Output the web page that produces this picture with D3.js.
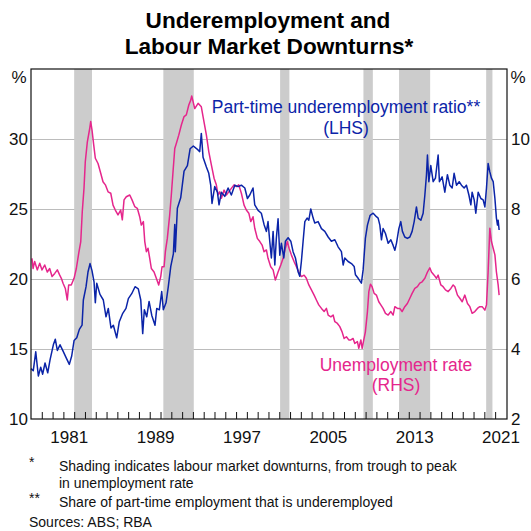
<!DOCTYPE html>
<html><head><meta charset="utf-8">
<script src="https://cdn.jsdelivr.net/npm/d3@7"></script>
<style>body{margin:0;background:#fff} svg{display:block} text{font-family:"Liberation Sans",Arial,sans-serif}</style>
</head><body><svg id="c" width="531" height="531"></svg>
<script>
// ---- data (decimal year, value) ----
const leftTicks = [10, 15, 20, 25, 30];
const rightTicks = [2, 4, 6, 8, 10];
const yearLabels = [1981, 1989, 1997, 2005, 2013, 2021];
const downturns = [[1982.0,1983.65],[1990.26,1993.08],[2001.08,2001.94],[2008.8,2009.67],[2012.1,2014.98],[2020.17,2020.75]];
// Part-time underemployment ratio (LHS, %)
const underemployment = [
[1978.00,13.6],[1978.21,13.45],[1978.44,14.8],[1978.68,13.07],[1978.90,13.7],[1979.08,13.2],[1979.30,14.0],[1979.55,13.3],[1979.76,14.2],
[1980.07,15.3],[1980.25,15.7],[1980.44,14.9],[1980.69,15.3],[1980.94,14.9],[1981.24,14.4],[1981.55,13.9],[1981.77,14.5],[1981.99,15.6],
[1982.24,15.8],[1982.48,16.4],[1982.73,16.7],[1982.85,18.5],[1983.10,19.45],[1983.28,20.5],[1983.47,21.1],[1983.65,20.6],[1983.84,19.8],
[1983.96,18.3],[1984.09,19.7],[1984.39,18.9],[1984.70,18.5],[1984.95,17.3],[1985.16,17.9],[1985.41,16.5],[1985.63,16.7],[1985.94,15.8],
[1986.18,16.95],[1986.50,17.55],[1986.80,17.9],[1987.02,18.6],[1987.33,18.95],[1987.64,19.45],[1987.94,19.3],[1988.17,18.5],[1988.35,16.1],
[1988.50,17.8],[1988.72,17.3],[1988.94,18.4],[1989.19,17.4],[1989.49,16.7],[1989.65,17.9],[1989.89,17.8],[1990.11,19.1],[1990.26,17.8],
[1990.51,18.3],[1990.72,19.45],[1990.95,20.9],[1991.19,21.8],[1991.32,23.9],[1991.37,21.95],[1991.56,25.05],[1991.87,25.8],[1992.18,27.7],
[1992.49,28.1],[1992.74,29.3],[1993.04,29.5],[1993.36,29.3],[1993.63,29.1],[1993.78,30.4],[1993.94,28.7],[1994.25,28.0],[1994.47,27.55],
[1994.65,26.7],[1994.77,25.4],[1995.02,26.6],[1995.27,26.2],[1995.42,25.3],[1995.64,26.2],[1995.95,25.9],[1996.26,26.5],[1996.56,26.0],
[1996.88,26.7],[1997.18,26.6],[1997.49,26.7],[1997.81,26.5],[1998.05,25.75],[1998.27,26.0],[1998.57,26.5],[1998.73,25.3],[1999.04,24.9],
[1999.34,24.7],[1999.59,23.9],[1999.81,23.4],[1999.96,24.1],[2000.12,22.7],[2000.27,21.5],[2000.43,23.4],[2000.59,21.0],[2000.73,22.9],
[2000.89,24.3],[2001.05,21.7],[2001.20,22.55],[2001.42,21.5],[2001.57,22.7],[2001.82,22.95],[2002.07,22.7],[2002.28,21.95],[2002.50,21.5],
[2002.75,20.5],[2002.90,20.2],[2003.05,21.25],[2003.21,22.7],[2003.37,24.1],[2003.58,24.35],[2003.74,24.2],[2003.92,25.0],[2004.14,24.35],
[2004.29,24.0],[2004.60,24.1],[2004.91,23.6],[2005.22,23.4],[2005.53,23.0],[2005.83,22.7],[2006.15,22.8],[2006.45,22.3],[2006.76,21.95],
[2006.92,21.0],[2007.07,21.5],[2007.38,21.25],[2007.69,21.1],[2007.94,20.9],[2008.06,20.3],[2008.31,20.05],[2008.61,19.7],[2008.77,20.65],
[2008.98,22.9],[2009.17,23.85],[2009.42,24.55],[2009.70,24.7],[2010.00,24.45],[2010.16,24.35],[2010.32,23.85],[2010.47,22.8],[2010.62,23.6],
[2010.84,23.25],[2011.09,22.55],[2011.34,22.8],[2011.55,22.4],[2011.71,22.05],[2011.86,22.55],[2012.08,23.6],[2012.26,24.1],[2012.41,23.4],
[2012.63,23.0],[2012.87,22.9],[2013.10,23.0],[2013.31,23.4],[2013.50,24.1],[2013.71,25.15],[2013.87,24.35],[2014.12,24.2],[2014.33,24.7],
[2014.49,26.0],[2014.64,27.45],[2014.73,28.85],[2014.86,26.95],[2015.04,28.1],[2015.26,26.95],[2015.47,27.2],[2015.72,28.85],[2015.84,26.95],
[2016.09,27.3],[2016.34,26.2],[2016.58,27.45],[2016.80,26.7],[2017.02,26.5],[2017.20,27.55],[2017.42,26.7],[2017.67,26.95],[2017.88,26.7],
[2018.13,26.5],[2018.34,26.7],[2018.57,26.0],[2018.75,25.3],[2018.87,26.2],[2019.06,25.65],[2019.21,24.7],[2019.43,26.2],[2019.68,25.75],
[2019.89,25.65],[2020.05,25.15],[2020.20,26.5],[2020.35,28.25],[2020.51,27.65],[2020.66,27.2],[2020.82,26.95],[2020.98,25.75],[2021.12,24.35],
[2021.22,23.85],[2021.28,24.2],[2021.37,23.5]
];
// Unemployment rate (RHS, %)
const unemployment = [
[1978.09,6.59],[1978.19,6.3],[1978.34,6.5],[1978.58,6.26],[1978.81,6.45],[1979.02,6.26],[1979.27,6.4],[1979.51,6.2],[1979.73,6.3],
[1979.95,6.07],[1980.20,6.16],[1980.44,6.26],[1980.66,6.11],[1980.81,6.02],[1980.97,5.88],[1981.18,5.73],[1981.36,5.4],[1981.49,5.83],
[1981.73,5.83],[1981.99,6.02],[1982.20,6.3],[1982.42,6.73],[1982.61,7.07],[1982.75,7.92],[1982.91,8.59],[1983.03,9.35],[1983.22,9.92],
[1983.44,10.3],[1983.53,10.5],[1983.65,10.26],[1983.81,9.83],[1983.96,9.45],[1984.21,9.3],[1984.46,9.02],[1984.67,8.78],[1984.89,8.69],
[1985.14,8.49],[1985.39,8.45],[1985.60,8.11],[1985.81,7.97],[1986.06,7.83],[1986.31,7.97],[1986.46,7.69],[1986.62,8.26],[1986.83,8.35],
[1987.15,8.4],[1987.36,8.26],[1987.61,8.07],[1987.85,8.02],[1988.07,7.78],[1988.22,7.54],[1988.41,7.64],[1988.54,7.07],[1988.69,6.78],
[1988.84,6.88],[1989.00,6.59],[1989.15,6.3],[1989.40,6.2],[1989.61,6.02],[1989.83,5.83],[1990.02,6.07],[1990.14,6.35],[1990.33,6.35],
[1990.45,6.78],[1990.63,7.16],[1990.85,7.83],[1991.00,8.4],[1991.16,9.07],[1991.32,9.73],[1991.47,9.88],[1991.69,10.11],[1991.93,10.4],
[1992.18,10.64],[1992.39,10.69],[1992.62,10.97],[1992.80,11.11],[1992.89,11.23],[1993.17,10.87],[1993.48,11.02],[1993.78,10.92],[1993.94,10.64],
[1994.25,10.11],[1994.47,9.64],[1994.71,9.26],[1994.96,8.88],[1995.17,8.69],[1995.33,8.4],[1995.49,8.49],[1995.64,8.31],[1995.89,8.54],
[1996.10,8.4],[1996.32,8.49],[1996.56,8.59],[1996.81,8.69],[1997.03,8.64],[1997.25,8.69],[1997.49,8.45],[1997.74,8.11],[1997.95,7.97],
[1998.18,7.88],[1998.36,7.64],[1998.57,7.78],[1998.73,7.45],[1998.97,7.16],[1999.20,7.07],[1999.41,6.97],[1999.59,6.78],[1999.81,6.83],
[1999.96,6.59],[2000.21,6.35],[2000.43,6.26],[2000.64,5.97],[2000.89,6.2],[2001.14,6.4],[2001.36,6.59],[2001.57,6.88],[2001.75,7.07],
[2001.91,6.88],[2002.12,6.69],[2002.37,6.5],[2002.59,6.35],[2002.81,6.2],[2003.05,6.07],[2003.30,6.11],[2003.51,6.02],[2003.74,5.83],
[2003.98,5.69],[2004.23,5.54],[2004.44,5.4],[2004.66,5.26],[2004.91,5.16],[2005.16,5.07],[2005.37,5.16],[2005.53,4.97],[2005.78,4.92],
[2005.99,4.97],[2006.15,4.78],[2006.39,4.73],[2006.61,4.64],[2006.82,4.49],[2007.01,4.3],[2007.22,4.35],[2007.44,4.26],[2007.63,4.26],
[2007.84,4.3],[2008.00,4.16],[2008.24,4.21],[2008.37,4.02],[2008.56,4.26],[2008.68,4.02],[2008.80,4.21],[2008.98,4.49],[2009.17,5.07],
[2009.30,5.64],[2009.45,5.85],[2009.60,5.78],[2009.79,5.59],[2010.00,5.54],[2010.22,5.35],[2010.41,5.26],[2010.62,5.16],[2010.84,5.02],
[2011.09,4.97],[2011.34,5.07],[2011.55,4.97],[2011.71,5.21],[2011.95,5.16],[2012.17,5.16],[2012.38,5.07],[2012.63,5.21],[2012.87,5.3],
[2013.10,5.45],[2013.31,5.59],[2013.56,5.73],[2013.80,5.78],[2014.02,5.88],[2014.24,5.92],[2014.49,6.02],[2014.73,6.2],[2014.95,6.32],
[2015.10,6.2],[2015.35,6.11],[2015.56,6.02],[2015.72,6.11],[2015.97,5.83],[2016.18,5.78],[2016.40,5.69],[2016.65,5.64],[2016.90,5.73],
[2017.11,5.83],[2017.27,5.78],[2017.51,5.54],[2017.73,5.45],[2017.95,5.35],[2018.19,5.54],[2018.44,5.3],[2018.66,5.21],[2018.87,5.02],
[2019.12,5.07],[2019.36,5.16],[2019.58,5.21],[2019.80,5.21],[2020.05,5.11],[2020.20,5.26],[2020.35,6.2],[2020.51,7.45],[2020.66,7.07],
[2020.82,6.88],[2020.98,6.69],[2021.12,6.2],[2021.28,5.83],[2021.37,5.54]
];

// ---- chart ----
const W = 531, H = 531;
const m = {l: 31, r: 507, t: 69, b: 419};
const BLUE = "#0b24a8", PINK = "#e5268c";
const FONT = "Liberation Sans, Arial, sans-serif";
const x = d3.scaleLinear().domain([1978, 2022.1]).range([m.l, m.r]);
const yL = d3.scaleLinear().domain([10, 35]).range([m.b, m.t]);
const yR = d3.scaleLinear().domain([2, 12]).range([m.b, m.t]);
const svg = d3.select("#c");
svg.append("rect").attr("width", W).attr("height", H).attr("fill", "#fff");

// gridlines
svg.append("g").attr("transform", `translate(${m.l},0)`)
  .call(d3.axisLeft(yL).tickValues(leftTicks.slice(1)).tickSize(-(m.r - m.l)).tickFormat(""))
  .call(g => g.select(".domain").remove())
  .call(g => g.selectAll("line").attr("stroke", "#bcbcbc").attr("stroke-width", 1));

// shading
svg.append("g").selectAll("rect").data(downturns).join("rect")
  .attr("x", d => x(d[0])).attr("width", d => x(d[1]) - x(d[0]))
  .attr("y", m.t).attr("height", m.b - m.t).attr("fill", "#cccccc");

// lines
const lineL = d3.line().x(d => x(d[0])).y(d => yL(d[1]));
const lineR = d3.line().x(d => x(d[0])).y(d => yR(d[1]));
svg.append("path").datum(unemployment).attr("d", lineR).attr("fill", "none")
  .attr("stroke", PINK).attr("stroke-width", 1.5).attr("stroke-linejoin", "round");
svg.append("path").datum(underemployment).attr("d", lineL).attr("fill", "none")
  .attr("stroke", BLUE).attr("stroke-width", 1.5).attr("stroke-linejoin", "round");

// frame
svg.append("rect").attr("x", m.l).attr("y", m.t).attr("width", m.r - m.l).attr("height", m.b - m.t)
  .attr("fill", "none").attr("stroke", "#111").attr("stroke-width", 1.2);

// x ticks (each year, inward)
svg.append("g").attr("transform", `translate(0,${m.b})`)
  .call(d3.axisBottom(x).tickValues(d3.range(1979, 2022)).tickSize(-7).tickFormat(""))
  .call(g => g.select(".domain").remove())
  .call(g => g.selectAll("line").attr("stroke", "#111").attr("stroke-width", 1));
// x labels (mid-year)
svg.append("g").attr("transform", `translate(0,${m.b})`)
  .call(d3.axisBottom(x).tickValues(yearLabels.map(d => d + 0.5)).tickSize(0).tickPadding(12).tickFormat(d => Math.floor(d)))
  .call(g => g.select(".domain").remove())
  .call(g => g.selectAll("text").attr("font-size", 17).attr("fill", "#111").attr("font-family", FONT));

// y labels
svg.append("g").attr("transform", `translate(${m.l},0)`)
  .call(d3.axisLeft(yL).tickValues(leftTicks).tickSize(0).tickPadding(3))
  .call(g => g.select(".domain").remove())
  .call(g => g.selectAll("text").attr("font-size", 17).attr("fill", "#111").attr("font-family", FONT));
svg.append("g").attr("transform", `translate(${m.r},0)`)
  .call(d3.axisRight(yR).tickValues(rightTicks).tickSize(0).tickPadding(4))
  .call(g => g.select(".domain").remove())
  .call(g => g.selectAll("text").attr("font-size", 17).attr("fill", "#111").attr("font-family", FONT));
svg.append("text").attr("x", 19).attr("y", 83).attr("text-anchor", "middle").attr("font-size", 17).attr("fill", "#111").text("%");
svg.append("text").attr("x", 518).attr("y", 83).attr("text-anchor", "middle").attr("font-size", 17).attr("fill", "#111").text("%");

// title
const title = svg.append("text").attr("text-anchor", "middle").attr("font-weight", "bold").attr("font-size", 22.6).attr("fill", "#000");
title.append("tspan").attr("x", 268).attr("y", 28).text("Underemployment and");
title.append("tspan").attr("x", 269).attr("y", 54).text("Labour Market Downturns*");

// series labels
svg.append("text").attr("x", 346).attr("y", 113).attr("text-anchor", "middle").attr("font-size", 17.5).attr("fill", BLUE).text("Part-time underemployment ratio**");
svg.append("text").attr("x", 346).attr("y", 134).attr("text-anchor", "middle").attr("font-size", 17.5).attr("fill", BLUE).text("(LHS)");
svg.append("text").attr("x", 396).attr("y", 371).attr("text-anchor", "middle").attr("font-size", 17.5).attr("fill", PINK).text("Unemployment rate");
svg.append("text").attr("x", 396).attr("y", 391).attr("text-anchor", "middle").attr("font-size", 17.5).attr("fill", PINK).text("(RHS)");

// footnotes
const fn = svg.append("g").attr("font-size", 14).attr("fill", "#111");
fn.append("text").attr("x", 29).attr("y", 467).text("*");
fn.append("text").attr("x", 59).attr("y", 471).text("Shading indicates labour market downturns, from trough to peak");
fn.append("text").attr("x", 59).attr("y", 488).text("in unemployment rate");
fn.append("text").attr("x", 29).attr("y", 503).text("**");
fn.append("text").attr("x", 59).attr("y", 507).text("Share of part-time employment that is underemployed");
fn.append("text").attr("x", 29).attr("y", 527).text("Sources: ABS; RBA");
</script></body></html>
